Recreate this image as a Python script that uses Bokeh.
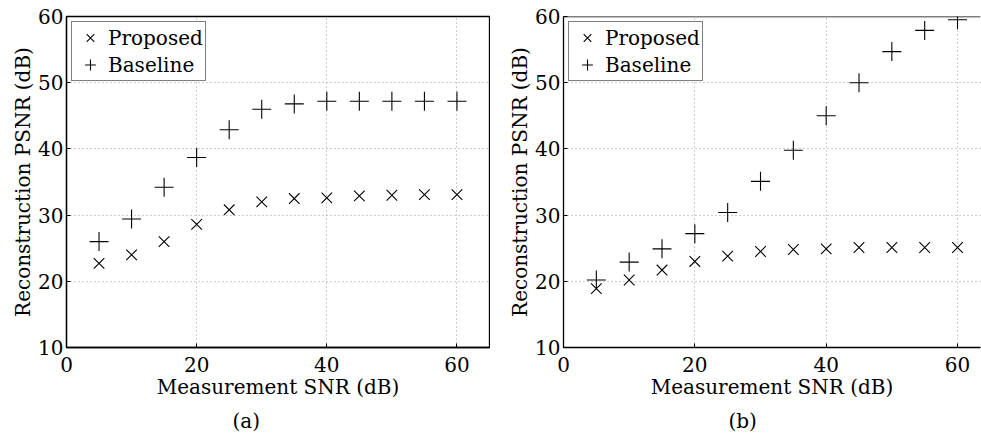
from bokeh.plotting import figure
from bokeh.layouts import row
from bokeh.models import (FixedTicker, Legend, LegendItem, Title, Range1d, Span)
from bokeh.embed import file_html
from bokeh.resources import INLINE

# ---------------- data ----------------
snr = [5, 10, 15, 20, 25, 30, 35, 40, 45, 50, 55, 60]

a_proposed = [22.7, 24.0, 26.0, 28.6, 30.8, 32.0, 32.5, 32.6, 32.9, 33.0, 33.1, 33.1]
a_baseline = [26.0, 29.4, 34.2, 38.7, 42.9, 46.0, 46.8, 47.2, 47.2, 47.2, 47.2, 47.2]

b_proposed = [18.9, 20.2, 21.7, 23.0, 23.8, 24.5, 24.8, 24.9, 25.1, 25.1, 25.1, 25.1]
b_baseline = [20.2, 22.9, 24.9, 27.2, 30.4, 35.1, 39.8, 45.0, 50.0, 54.7, 57.9, 59.5]

x_ticks = [0, 20, 40, 60]
y_ticks = [10, 20, 30, 40, 50, 60]

x_label = "Measurement SNR (dB)"
y_label = "Reconstruction PSNR (dB)"
captions = ["(a)", "(b)"]

FONT = "DejaVu Serif"
FS = "20px"


def make_panel(proposed, baseline, caption, width, x_end, border_left, full_box, cap_offset):
    p = figure(width=width, height=438, output_backend="svg", toolbar_location=None,
               x_range=Range1d(0, x_end), y_range=Range1d(10, 60),
               min_border_left=border_left, min_border_right=1,
               min_border_top=16, min_border_bottom=91)
    p.background_fill_color = "white"
    p.border_fill_color = "white"
    if full_box:
        p.outline_line_color = "black"
        p.outline_line_width = 1.3
        p.outline_line_alpha = 1
    else:
        p.outline_line_color = None
        top = Span(location=p.y_range.end, dimension="width", line_color="black", line_width=1.3)
        p.add_layout(top)

    for ax, ticks in ((p.xaxis[0], x_ticks), (p.yaxis[0], y_ticks)):
        ax.ticker = FixedTicker(ticks=ticks)
        ax.axis_line_color = "black"
        ax.axis_line_width = 1.3
        ax.major_tick_in = 4
        ax.major_tick_out = 0
        ax.minor_tick_line_color = None
        ax.major_tick_line_color = "black"
        ax.major_label_text_font = FONT
        ax.major_label_text_font_size = FS
        ax.major_label_text_color = "black"
        ax.axis_label_text_font = FONT
        ax.axis_label_text_font_size = FS
        ax.axis_label_text_font_style = "normal"
        ax.axis_label_text_color = "black"
    p.xaxis[0].axis_label = x_label
    p.yaxis[0].axis_label = y_label
    p.xaxis[0].major_label_standoff = 9
    p.xaxis[0].axis_label_standoff = 0
    p.yaxis[0].major_label_standoff = 3
    p.yaxis[0].axis_label_standoff = 0

    for g in (p.xgrid[0], p.ygrid[0]):
        g.grid_line_color = "#9a9a9a"
        g.grid_line_dash = "1 3"
        g.grid_line_width = 1
    p.xgrid[0].ticker = FixedTicker(ticks=x_ticks)
    p.ygrid[0].ticker = FixedTicker(ticks=y_ticks)

    r1 = p.scatter(snr, proposed, marker="x", size=15, line_color="black", line_width=1.1)
    r2 = p.scatter(snr, baseline, marker="cross", size=19, line_color="black", line_width=1.1)

    leg = Legend(items=[LegendItem(label="Proposed", renderers=[r1]),
                        LegendItem(label="Baseline", renderers=[r2])],
                 location="top_left")
    leg.margin = 5
    leg.padding = 2
    leg.spacing = 0
    leg.glyph_width = 32
    leg.glyph_height = 27
    leg.label_height = 27
    leg.label_standoff = 2
    leg.label_text_font = FONT
    leg.label_text_font_size = FS
    leg.label_text_color = "black"
    leg.border_line_color = "black"
    leg.border_line_width = 1.3
    leg.background_fill_alpha = 1
    p.add_layout(leg, "center")

    t = Title(text=caption, align="left", offset=cap_offset, text_font=FONT,
              text_font_size=FS, text_font_style="normal", text_color="black", standoff=11)
    p.add_layout(t, "below")
    return p


pa = make_panel(a_proposed, a_baseline, captions[0], 490, 65, 66, True, 166)
pb = make_panel(b_proposed, b_baseline, captions[1], 491, 63.5, 73, False, 165)

layout = row(pa, pb, spacing=0)
open("out.html", "w").write(file_html(layout, INLINE))
